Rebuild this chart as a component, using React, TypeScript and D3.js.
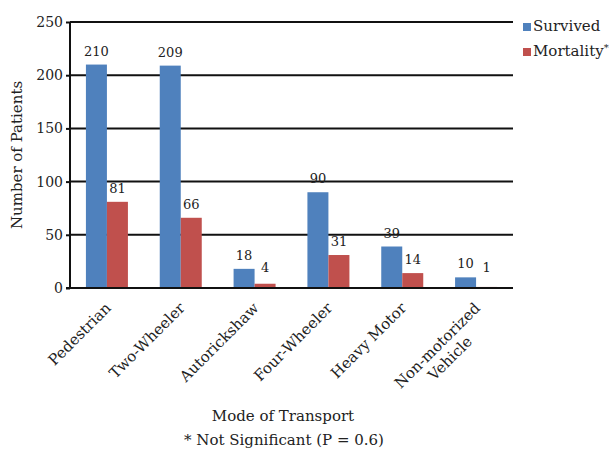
import * as d3 from "d3";
import React, { useEffect, useRef } from "react";

const categories = ["Pedestrian", "Two-Wheeler", "Autorickshaw", "Four-Wheeler", "Heavy Motor", "Non-motorized\nVehicle"];
const survived = [210, 209, 18, 90, 39, 10];
const mortality = [81, 66, 4, 31, 14, 1];
const seriesNames = ["Survived", "Mortality"];
const colors = ["#4F81BD", "#C0504D"];
const yTicks = [0, 50, 100, 150, 200, 250];

const W = 611;
const H = 451;
const margin = { left: 70, right: 98, top: 22, bottom: 163 };
const FONT = "'DejaVu Serif', serif";

export default function App() {
  const svgRef = useRef<SVGSVGElement | null>(null);

  useEffect(() => {
    const svg = d3.select(svgRef.current);
    svg.selectAll("*").remove();

    const x0 = d3.scaleBand<string>().domain(categories).range([margin.left, W - margin.right]).paddingInner(0).paddingOuter(0);
    const barW = 21;
    const y = d3.scaleLinear().domain([0, 250]).range([H - margin.bottom, margin.top]);
    const x1 = d3.scaleBand<string>().domain(seriesNames).range([0, barW * 2]);

    // gridlines
    svg
      .append("g")
      .selectAll("line")
      .data(yTicks.filter((t) => t > 0))
      .join("line")
      .attr("x1", margin.left)
      .attr("x2", W - margin.right)
      .attr("y1", (d) => y(d))
      .attr("y2", (d) => y(d))
      .attr("stroke", "#111")
      .attr("stroke-width", 2);

    // bars
    const groups = svg
      .append("g")
      .selectAll("g")
      .data(categories)
      .join("g")
      .attr("transform", (d) => `translate(${x0(d)! + x0.bandwidth() / 2 - barW},0)`);

    groups.each(function (cat, i) {
      const g = d3.select(this);
      const vals = [survived[i], mortality[i]];
      vals.forEach((v, s) => {
        g.append("rect")
          .attr("x", x1(seriesNames[s])!)
          .attr("y", y(v))
          .attr("width", barW)
          .attr("height", y(0) - y(v))
          .attr("fill", colors[s]);
        g.append("text")
          .attr("x", x1(seriesNames[s])! + barW / 2)
          .attr("y", Math.min(y(v) - 9, y(0) - 16))
          .attr("text-anchor", "middle")
          .attr("font-family", FONT)
          .attr("font-size", 13)
          .attr("fill", "#222")
          .text(v);
      });
    });

    // axes
    const yAxis = svg
      .append("g")
      .attr("transform", `translate(${margin.left},0)`)
      .call(d3.axisLeft(y).tickValues(yTicks).tickSize(4).tickPadding(3));
    yAxis.select(".domain").remove();
    yAxis.selectAll("line").attr("stroke", "#111").attr("stroke-width", 2);
    yAxis.selectAll("text").attr("font-family", FONT).attr("font-size", 14).attr("fill", "#222");

    svg
      .append("line")
      .attr("x1", margin.left)
      .attr("x2", margin.left)
      .attr("y1", margin.top)
      .attr("y2", y(0))
      .attr("stroke", "#111")
      .attr("stroke-width", 2);
    svg
      .append("line")
      .attr("x1", margin.left - 4)
      .attr("x2", W - margin.right)
      .attr("y1", y(0))
      .attr("y2", y(0))
      .attr("stroke", "#111")
      .attr("stroke-width", 2);

    // category labels
    categories.forEach((cat) => {
      const cx = x0(cat)! + x0.bandwidth() / 2 + 5;
      const g = svg.append("g").attr("transform", `translate(${cx},309) rotate(-45)`);
      const lines = cat.split("\n");
      const first = g
        .append("text")
        .attr("text-anchor", "end")
        .attr("font-family", FONT)
        .attr("font-size", 15)
        .attr("fill", "#222")
        .text(lines[0]);
      if (lines.length > 1) {
        const w = (first.node() as SVGTextElement).getComputedTextLength();
        g.append("text")
          .attr("x", -w / 2)
          .attr("y", 18)
          .attr("text-anchor", "middle")
          .attr("font-family", FONT)
          .attr("font-size", 15)
          .attr("fill", "#222")
          .text(lines[1]);
      }
    });

    // axis titles
    svg
      .append("text")
      .attr("transform", `translate(22,${(margin.top + y(0)) / 2}) rotate(-90)`)
      .attr("text-anchor", "middle")
      .attr("font-family", FONT)
      .attr("font-size", 15)
      .attr("fill", "#222")
      .text("Number of Patients");
    svg
      .append("text")
      .attr("x", 283)
      .attr("y", 421)
      .attr("text-anchor", "middle")
      .attr("font-family", FONT)
      .attr("font-size", 15)
      .attr("fill", "#222")
      .text("Mode of Transport");
    svg
      .append("text")
      .attr("x", 284)
      .attr("y", 445)
      .attr("text-anchor", "middle")
      .attr("font-family", FONT)
      .attr("font-size", 15)
      .attr("fill", "#222")
      .text("* Not Significant (P = 0.6)");

    // legend
    const legend = svg.append("g").attr("transform", "translate(523,22)");
    seriesNames.forEach((name, i) => {
      legend
        .append("rect")
        .attr("x", 0)
        .attr("y", i * 25 + 1)
        .attr("width", 8)
        .attr("height", 8)
        .attr("fill", colors[i]);
      const t = legend
        .append("text")
        .attr("x", 10)
        .attr("y", i * 25 + 9)
        .attr("font-family", FONT)
        .attr("font-size", 15)
        .attr("fill", "#222")
        .text(name);
      if (i === 1) t.append("tspan").attr("font-size", 10).attr("dy", -5).text("*");
    });
  }, []);

  return (
    <svg
      ref={svgRef}
      width={W}
      height={H}
      style={{ position: "absolute", left: 0, top: 0, background: "#fff" }}
    />
  );
}
